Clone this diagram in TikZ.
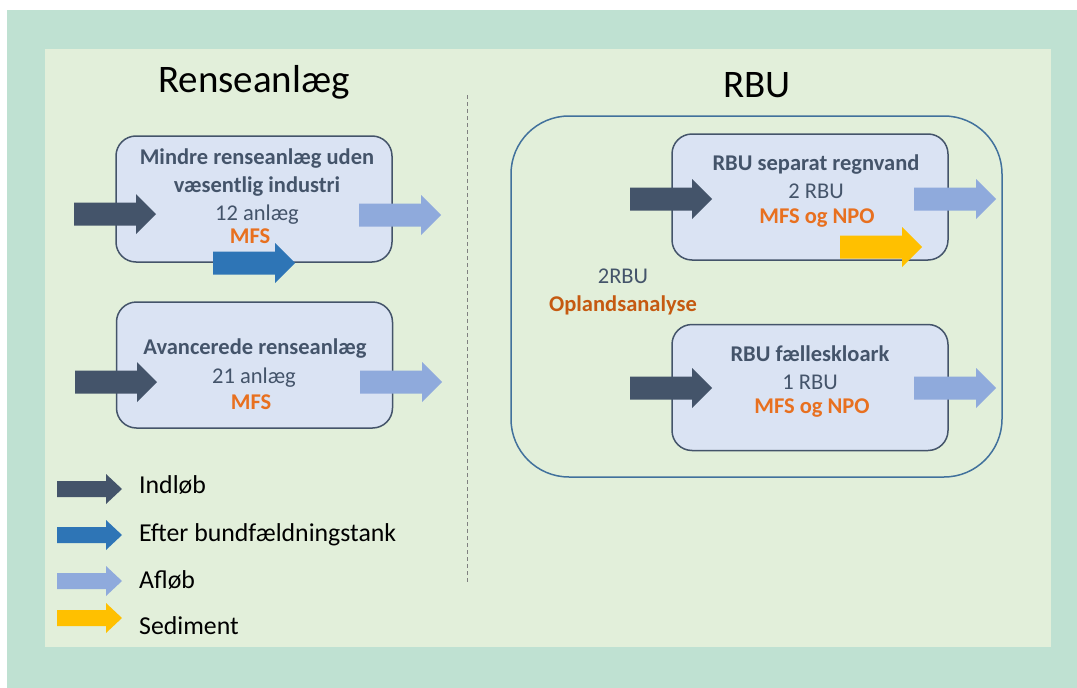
\documentclass[tikz,border=0pt]{standalone}
\usepackage{fontspec}
\setmainfont{Carlito}
\definecolor{mint}{HTML}{BFE1D2}
\definecolor{pale}{HTML}{E2EFDA}
\definecolor{boxfill}{HTML}{DAE3F3}
\definecolor{slate}{HTML}{44546A}
\definecolor{frame}{HTML}{41719C}
\definecolor{inflow}{HTML}{44546A}
\definecolor{settled}{HTML}{2E75B6}
\definecolor{outflow}{HTML}{8FAADC}
\definecolor{sediment}{HTML}{FFC000}
\definecolor{orangetxt}{HTML}{E8701F}
\definecolor{darkorange}{HTML}{C55A11}
\tikzset{
  plant/.style={draw=slate, line width=1.5pt, fill=boxfill, rounded corners=20pt,
    minimum width=276pt, minimum height=126pt, inner sep=0pt},
  bigarrow/.pic={\path[pic actions] (0,-11.5) -- (62,-11.5) -- (62,-20) -- (82,0)
    -- (62,20) -- (62,11.5) -- (0,11.5) -- cycle;},
  keyarrow/.pic={\path[pic actions] (0,-8) -- (49,-8) -- (49,-15) -- (65,0)
    -- (49,15) -- (49,8) -- (0,8) -- cycle;},
  head/.style={font=\fontsize{22.5}{27}\selectfont\bfseries, text=slate, anchor=base, inner sep=0pt},
  count/.style={font=\fontsize{22.5}{27}\selectfont, text=slate, anchor=base, inner sep=0pt},
  param/.style={font=\fontsize{22.5}{27}\selectfont\bfseries, text=orangetxt, anchor=base, inner sep=0pt},
  title/.style={font=\fontsize{39}{46}\selectfont, anchor=base, inner sep=0pt},
  keytext/.style={font=\fontsize{25.8}{31}\selectfont, anchor=base west, inner sep=0pt},
}
\begin{document}
\begin{tikzpicture}[x=1pt, y=-1pt]
\useasboundingbox (0,0) rectangle (1077,688);
% backgrounds
\fill[mint] (7,10) rectangle (1077,688);
\fill[pale] (45,49) rectangle (1051,647);
% section divider
\draw[gray, line width=1pt, dash pattern=on 4pt off 3pt] (467,95) -- (467,583);
% titles
\node[title] (t1) at (254,92) {Renseanlæg};
\node[title] (t2) at (757,97) {RBU};
% RBU group frame
\node[draw=frame, line width=1.5pt, rounded corners=58pt, minimum width=491pt,
  minimum height=361pt, inner sep=0pt] (grp) at (756.5,296.5) {};

% --- wastewater plants ---
\node[plant] (p1) at (254,199) {};
\pic[fill=inflow] at (74,214) {bigarrow};
\pic[fill=outflow] at (359,215) {bigarrow};
\pic[fill=settled] at (213,263) {bigarrow};
\node[head] (p1a) at (257,164) {Mindre renseanlæg uden};
\node[head] (p1b) at (257,192) {væsentlig industri};
\node[count] (p1c) at (257,220) {12 anlæg};
\node[param] (p1d) at (250,243) {MFS};

\node[plant] (p2) at (254.5,365) {};
\pic[fill=inflow] at (75,382) {bigarrow};
\pic[fill=outflow] at (360,382) {bigarrow};
\node[head] (p2a) at (255,354) {Avancerede renseanlæg};
\node[count] (p2b) at (254,383) {21 anlæg};
\node[param] (p2c) at (251,409) {MFS};

% --- stormwater basins ---
\node[plant] (r1) at (810,197) {};
\pic[fill=inflow] at (630,199) {bigarrow};
\pic[fill=outflow] at (914,199) {bigarrow};
\pic[fill=sediment] at (840,247) {bigarrow};
\node[head] (r1a) at (816,170) {RBU separat regnvand};
\node[count] (r1b) at (816,198) {2 RBU};
\node[param] (r1c) at (817,223) {MFS og NPO};

\node[plant] (r2) at (810,387.5) {};
\pic[fill=inflow] at (630,388) {bigarrow};
\pic[fill=outflow] at (914,388) {bigarrow};
\node[head] (r2a) at (810,361) {RBU fælleskloark};
\node[count] (r2b) at (810,389) {1 RBU};
\node[param] (r2c) at (812,413) {MFS og NPO};

\node[count] (u1) at (623,283) {2RBU};
\node[param, text=darkorange] (u2) at (623,311) {Oplandsanalyse};

% --- legend ---
\pic[fill=inflow] at (57,489) {keyarrow};
\pic[fill=settled] at (57,535) {keyarrow};
\pic[fill=outflow] at (57,581) {keyarrow};
\pic[fill=sediment] at (57,618) {keyarrow};
\node[keytext] (k1) at (139,493) {Indløb};
\node[keytext] (k2) at (139,541) {Efter bundfældningstank};
\node[keytext] (k3) at (139,588) {Afløb};
\node[keytext] (k4) at (139,634) {Sediment};
\end{tikzpicture}
\end{document}
